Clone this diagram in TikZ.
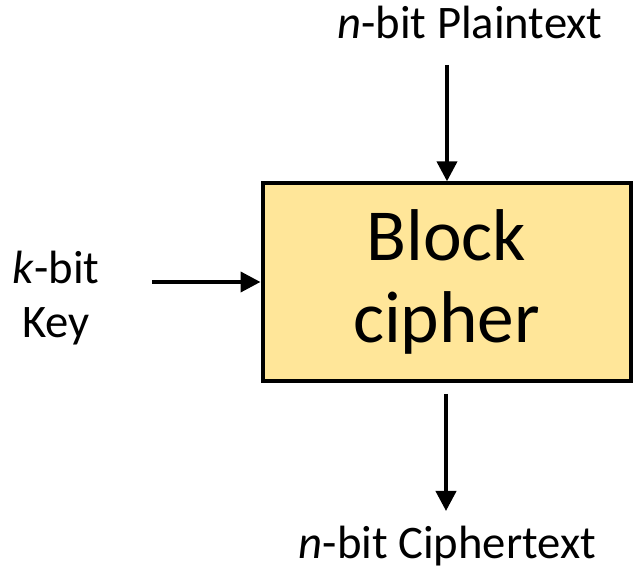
\documentclass[tikz,border=0pt]{standalone}
\usepackage{fontspec}
\setmainfont{Carlito}
\usetikzlibrary{arrows.meta}
\definecolor{boxyellow}{HTML}{FFE699}
\tikzset{
    cipherbox/.style = {draw, line width=3pt, fill=boxyellow, minimum width=276pt, minimum height=148pt, inner sep=0pt, align=center, font=\fontsize{55}{62}\selectfont},
    flow/.style = {-{Triangle[width=15pt, length=15pt]}, line width=3pt},
    lbl/.style = {inner sep=0pt, align=center, font=\fontsize{35}{41}\selectfont}
}
\begin{document}
\begin{tikzpicture}[x=0.75pt, y=-0.75pt]
    \useasboundingbox (0, 0) rectangle (633, 574);

    %%box
    \node[cipherbox] (cipher) at (446.5, 282){Block\\cipher};

    %%labels
    \node[lbl, anchor=base] (plain) at (470, 39){\textit{n}-bit Plaintext};
    \node[lbl] (key) at (56, 298){\textit{k}-bit\\Key};
    \node[lbl, anchor=base] (ciph) at (447.5, 558){\textit{n}-bit Ciphertext};

    %%arrows
    \coordinate (pin) at (447, 65);
    \coordinate (kin) at (152, 282);
    \coordinate (cout) at (446, 394);
    \coordinate (cend) at (446, 511);
        \draw[flow] (pin) to (pin |- cipher.north);
        \draw[flow] (kin) to (kin -| cipher.west);
        \draw[flow] (cout) to (cend);

\end{tikzpicture}
\end{document}
